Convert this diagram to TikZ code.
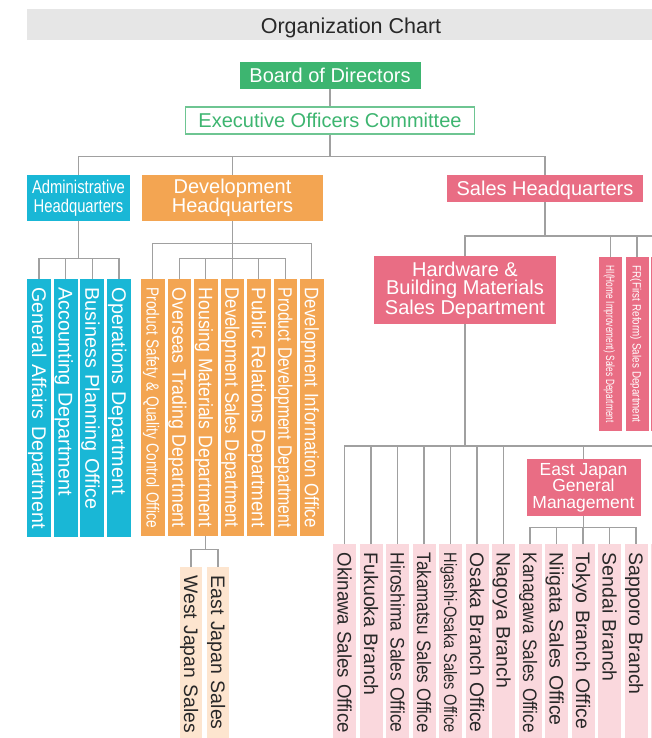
\documentclass[tikz,border=0pt]{standalone}
\usepackage{fontspec}
\usepackage{graphicx}
\setmainfont{Liberation Sans}
\usetikzlibrary{calc}
\definecolor{bandgray}{RGB}{230,230,230}
\definecolor{grn}{RGB}{61,181,112}
\definecolor{grnline}{RGB}{110,197,146}
\definecolor{cyn}{RGB}{25,183,214}
\definecolor{org}{RGB}{243,165,82}
\definecolor{pnk}{RGB}{233,109,132}
\definecolor{lpnk}{RGB}{250,216,221}
\definecolor{pch}{RGB}{253,229,207}
\definecolor{lin}{RGB}{160,160,160}
\definecolor{dtxt}{RGB}{40,40,40}
\newcommand\fs[2]{\fontsize{#1}{#2}\selectfont}
\newcommand\fitw[2]{\resizebox{#1pt}{\height}{#2}}
\newsavebox\fitbox
\newcommand\fitmax[2]{\sbox\fitbox{#2}\ifdim\wd\fitbox>#1pt\relax\resizebox{#1pt}{\height}{\usebox\fitbox}\else\usebox\fitbox\fi}
\begin{document}
\begin{tikzpicture}[x=1pt,y=-1pt,
  conn/.style={draw=lin, line width=1.3pt},
  hq/.style={inner sep=0pt, align=center, text=white},
  vb/.style={rotate=-90, anchor=west, inner xsep=8.5pt, inner ysep=0pt, align=left,
             text height=14pt, text depth=0pt, minimum height=23.5pt},
  abox/.style={vb, fill=cyn, text=white, minimum width=258pt, text width=241pt,
             minimum height=24pt, font=\fs{19.8}{22}},
  dbox/.style={vb, fill=org, text=white, minimum width=257pt, text width=240pt,
             font=\fs{19.5}{22}},
  sbox/.style={vb, fill=lpnk, text=dtxt, minimum width=200pt, text width=183pt,
             minimum height=23pt, font=\fs{19.5}{22}},
  pbox/.style={vb, fill=pch, text=dtxt, minimum width=175pt, text width=158pt,
             minimum height=22pt, font=\fs{19.5}{22}},
  hbox/.style={vb, fill=pnk, text=white, minimum width=174pt, text width=157pt,
             minimum height=23pt, text height=8.6pt, font=\fs{12}{14}}
]
\useasboundingbox (0,0) rectangle (652,738);
\clip (0,0) rectangle (652,738);

% title
\node[fill=bandgray, minimum width=625pt, minimum height=31pt, inner sep=0pt] (band) at (339.5,24.5) {};
\node[inner sep=0pt, text=dtxt, font=\fs{21.5}{24}, text height=15.5pt, text depth=0pt] (title) at (351,25.5) {Organization Chart};

% top
\node[hq, fill=grn, minimum width=181pt, minimum height=27pt, font=\fs{20}{22}] (bod) at (330,75.5) {Board of Directors};
\node[hq, fill=white, draw=grnline, line width=1.3pt, text=grn, minimum width=289pt, minimum height=27pt, font=\fs{20}{22}] (exe) at (330,120.5) {Executive Officers Committee};

% headquarters
\node[hq, fill=cyn, minimum width=103pt, minimum height=46pt, font=\fs{18.5}{19}] (adm) at (78.5,198) {\scalebox{.8}[1]{Administrative}\\\scalebox{.8}[1]{Headquarters}};
\node[hq, fill=org, minimum width=181pt, minimum height=46pt, font=\fs{20}{16.5}] (dev) at (232.5,198) {Development\\Headquarters};
\node[hq, fill=pnk, minimum width=196pt, minimum height=27pt, font=\fs{20}{22}, text height=14.3pt, text depth=0pt] (sal) at (545,188.5) {Sales Headquarters};

% admin departments
\node[abox] (ga) at (39,279) {\fitmax{241}{General Affairs Department}};
\node[abox] (ac) at (65.67,279) {\fitmax{241}{Accounting Department}};
\node[abox] (bp) at (92.33,279) {\fitmax{241}{Business Planning Office}};
\node[abox] (op) at (119,279) {\fitmax{241}{Operations Department}};

% development departments
\node[dbox, font=\fs{17.5}{20}, text height=12.5pt] (ps) at (152.75,279) {\fitw{240}{Product Safety \& Quality Control Office}};
\node[dbox] (ot) at (179.25,279) {\fitw{240}{Overseas Trading Department}};
\node[dbox] (hm) at (205.75,279) {\fitw{240}{Housing Materials Department}};
\node[dbox] (ds) at (232.25,279) {\fitw{240}{Development Sales Department}};
\node[dbox] (pr) at (258.75,279) {\fitw{240}{Public Relations Department}};
\node[dbox] (pd) at (285.25,279) {\fitw{240}{Product Development Department}};
\node[dbox] (di) at (311.75,279) {\fitw{240}{Development Information Office}};

% housing sub
\node[pbox] (wj) at (191,567) {\fitmax{157}{West Japan Sales}};
\node[pbox] (ej) at (218,567) {\fitmax{157}{East Japan Sales}};

% sales
\node[hq, fill=pnk, minimum width=182pt, minimum height=68pt, font=\fs{20}{18.5}] (hw) at (465,290) {Hardware \&\\Building Materials\\Sales Department};
\node[hbox] (hi) at (610.5,257) {\fitw{157}{HI(Home Improvement) Sales Department}};
\node[hbox] (fr) at (637,257) {\fitw{157}{FR(First Reform) Sales Department}};
\fill[pnk] (651,257) rectangle (680,431);

\node[hq, fill=pnk, minimum width=114pt, minimum height=57pt, font=\fs{17.5}{16.5}] (ejg) at (583.5,487.5) {East Japan\\General\\Management};

\node[sbox] (ok) at (344.5,544) {\fitmax{180}{Okinawa Sales Office}};
\node[sbox] (fu) at (371,544) {\fitmax{180}{Fukuoka Branch}};
\node[sbox] (hr) at (397.5,544) {\fitmax{180}{Hiroshima Sales Office}};
\node[sbox] (tk) at (424,544) {\fitmax{180}{Takamatsu Sales Office}};
\node[sbox, font=\fs{18}{20}, text height=13pt] (ho) at (450.5,544) {\fitw{180}{Higashi-Osaka Sales Office}};
\node[sbox] (os) at (477,544) {\fitmax{180}{Osaka Branch Office}};
\node[sbox] (ng) at (503.5,544) {\fitmax{180}{Nagoya Branch}};
\node[sbox] (ka) at (530,544) {\fitmax{180}{Kanagawa Sales Office}};
\node[sbox] (ni) at (556.5,544) {\fitmax{180}{Niigata Sales Office}};
\node[sbox] (to) at (583,544) {\fitmax{180}{Tokyo Branch Office}};
\node[sbox] (se) at (609.5,544) {\fitmax{180}{Sendai Branch}};
\node[sbox] (sa) at (636,544) {\fitmax{180}{Sapporo Branch}};
\fill[lpnk] (651,544) rectangle (680,745);

% connectors: top
\coordinate (mbus) at ($(exe.south)+(0,22)$);
\draw[conn] (bod.south) -- (exe.north);
\draw[conn] (exe.south) -- (mbus);
\draw[conn] (adm.north) |- (mbus) -| (sal.north);
\draw[conn] (dev.north) -- (dev.north |- mbus);

% admin
\coordinate (abus) at ($(adm.south)+(0,37)$);
\draw[conn] (adm.south) -- (abus);
\draw[conn] (ga.west) |- (abus) -| (op.west);
\draw[conn] (ac.west) -- (ac.west |- abus);
\draw[conn] (bp.west) -- (bp.west |- abus);

% development
\coordinate (dob) at ($(dev.south)+(0,22)$);
\coordinate (dib) at ($(dev.south)+(0,37)$);
\draw[conn] (dev.south) -- (dib);
\draw[conn] (ps.west) |- (dob) -| (di.west);
\draw[conn] (ot.west) |- (dib) -| (pd.west);
\draw[conn] (hm.west) -- (hm.west |- dib);
\draw[conn] (ds.west) -- (ds.west |- dib);
\draw[conn] (pr.west) -- (pr.west |- dib);

% housing sub
\coordinate (pbus) at ($(hm.east)+(0,13)$);
\draw[conn] (hm.east) -- (pbus);
\draw[conn] (wj.west) |- (pbus) -| (ej.west);

% sales
\coordinate (sbus) at ($(sal.south)+(0,34)$);
\coordinate (sedge) at (680,236);
\draw[conn] (sal.south) -- (sbus);
\draw[conn] (hw.north) |- (sedge);
\draw[conn] (hi.west) -- (hi.west |- sbus);
\draw[conn] (fr.west) -- (fr.west |- sbus);

\coordinate (hbus) at ($(hw.south)+(0,122)$);
\coordinate (hedge) at (680,446);
\draw[conn] (hw.south) -- (hbus);
\draw[conn] (ok.west) |- (hedge);
\foreach \n in {fu,hr,tk,ho,os,ng}{\draw[conn] (\n.west) -- (\n.west |- hbus);}
\draw[conn] (ejg.north) -- (ejg.north |- hbus);

\coordinate (ebus) at ($(ejg.south)+(0,11)$);
\draw[conn] (ejg.south) -- (ebus);
\draw[conn] (ka.west) |- (ebus) -| (sa.west);
\foreach \n in {ni,to,se}{\draw[conn] (\n.west) -- (\n.west |- ebus);}
\end{tikzpicture}
\end{document}
